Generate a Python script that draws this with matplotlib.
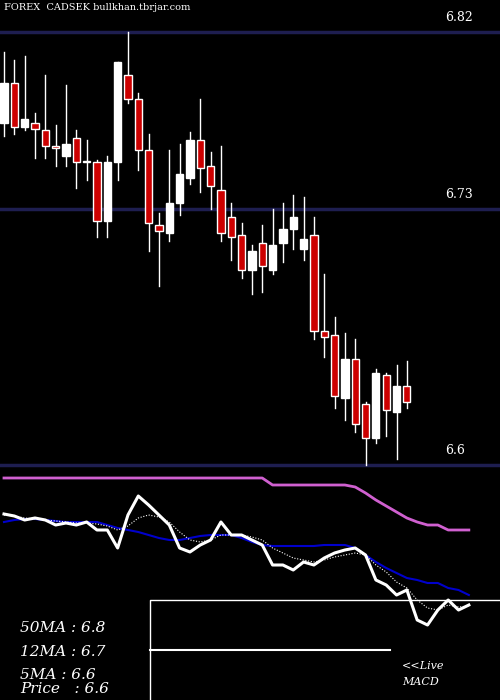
import matplotlib
matplotlib.use("Agg")
import matplotlib.pyplot as plt
import numpy as np

opens  = [6.774,6.794,6.772,6.774,6.770,6.762,6.757,6.766,6.754,6.754,6.724,6.754,6.798,6.786,6.760,6.722,6.718,6.733,6.746,6.765,
          6.752,6.740,6.726,6.717,6.699,6.713,6.699,6.713,6.720,6.710,6.717,6.668,6.666,6.634,6.654,6.631,6.614,6.646,6.627,6.640]
closes = [6.794,6.772,6.776,6.771,6.762,6.761,6.763,6.754,6.754,6.724,6.754,6.805,6.786,6.760,6.723,6.719,6.733,6.748,6.765,6.751,
          6.742,6.718,6.716,6.699,6.709,6.701,6.712,6.720,6.726,6.715,6.668,6.665,6.635,6.654,6.621,6.614,6.647,6.628,6.640,6.632]
highs  = [6.810,6.806,6.808,6.779,6.798,6.773,6.793,6.770,6.765,6.755,6.757,6.805,6.820,6.789,6.768,6.728,6.760,6.763,6.769,6.786,
          6.759,6.762,6.733,6.723,6.712,6.722,6.730,6.733,6.737,6.736,6.726,6.697,6.675,6.667,6.664,6.632,6.649,6.647,6.651,6.653]
lows   = [6.767,6.768,6.770,6.756,6.756,6.752,6.752,6.741,6.745,6.716,6.716,6.745,6.784,6.750,6.709,6.691,6.714,6.727,6.743,6.739,
          6.730,6.714,6.704,6.695,6.687,6.688,6.697,6.703,6.710,6.704,6.664,6.655,6.629,6.623,6.617,6.600,6.611,6.615,6.603,6.629]
levels = [6.82, 6.73, 6.6]
level_labels = ["6.82", "6.73", "6.6"]

ma50 = [478]*26 + [485]*8 + [487,493,500,506,512,518,522,525,525,530,530,530]
ma12 = [522,520,519,519,520,521,522,522,522,522,525,528,530,532,535,538,540,540,538,536,
        535,535,535,538,542,545,546,546,546,546,546,545,545,545,548,555,562,568,573,578,
        580,583,583,588,590,595]
ma5  = [514,516,520,518,520,525,523,525,522,530,530,548,515,496,505,515,525,548,552,545,
        540,522,535,535,540,545,565,565,570,562,565,558,553,550,548,555,580,585,595,590,
        620,625,610,600,610,605]
ma_dot = [515,516,518,519,520,521,522,523,523,524,526,530,526,518,515,517,522,532,540,542,
          540,535,535,535,537,540,548,553,558,560,562,560,557,555,553,555,565,572,582,588,
          600,608,610,605,607,606]

W, H = 500, 700
fig = plt.figure(figsize=(5, 7), dpi=100, facecolor="black")
xmin, xmax = -4/10.33, (500-4)/10.33

ax = fig.add_axes([0, 230/H, 1, 470/H])
ax.set_facecolor("black")
ax.set_xlim(xmin, xmax)
ax.set_ylim(6.5975, 6.8363)
ax.axis("off")
for lv, lb in zip(levels, level_labels):
    ax.axhline(lv, color="#1e1e50", lw=2.5, zorder=1)
    ax.text(445/W, lv + 0.004, lb, transform=ax.get_yaxis_transform(), color="white", fontsize=9,
            family="DejaVu Serif", va="bottom")
for i, (o, c, h, l) in enumerate(zip(opens, closes, highs, lows)):
    up = c >= o
    ax.plot([i, i], [l, h], color="white", lw=1, zorder=2)
    ax.bar(i, abs(c - o) or 0.0006, bottom=min(o, c), width=0.7,
           color="white" if up else "#cc0000", edgecolor="white", lw=1, zorder=3)
fig.text(4/W, 1 - 8/H, "FOREX  CADSEK bullkhan.tbrjar.com", color="white", fontsize=7,
         family="DejaVu Serif", va="center")

bx = fig.add_axes([0, 0, 1, 230/H])
bx.set_facecolor("black")
bx.set_xlim(xmin, xmax)
bx.set_ylim(700, 470)
bx.axis("off")
xs = np.arange(len(ma50))
bx.plot(xs, ma50, color="#d060d0", lw=2)
bx.plot(xs, ma12, color="#0000cc", lw=1.5)
bx.plot(xs, ma_dot, color="white", lw=0.8, ls=(0, (1, 1.5)))
bx.plot(xs, ma5, color="white", lw=2.2)

fx0 = (150 - 4) / 10.33
fx1 = (398 - 4) / 10.33
bx.fill_between([fx0, fx1], 601, 700, color="black", zorder=5)
bx.plot([fx0, fx0, xmax], [700, 600, 600], color="white", lw=1, zorder=6)
bx.plot([fx0, (390-4)/10.33], [650, 650], color="white", lw=1.5, zorder=6)

for txt, y in [("50MA : 6.8", 628), ("12MA : 6.7", 652), ("5MA : 6.6", 675), ("Price   : 6.6", 689)]:
    fig.text(20/W, 1 - y/H, txt, color="white", fontsize=11, style="italic",
             family="DejaVu Serif", va="center")
fig.text(402/W, 1 - 666/H, "<<Live", color="white", fontsize=8, style="italic", family="DejaVu Serif", va="center")
fig.text(402/W, 1 - 682/H, "MACD", color="white", fontsize=8, style="italic", family="DejaVu Serif", va="center")

fig.savefig("out.png", facecolor="black")
